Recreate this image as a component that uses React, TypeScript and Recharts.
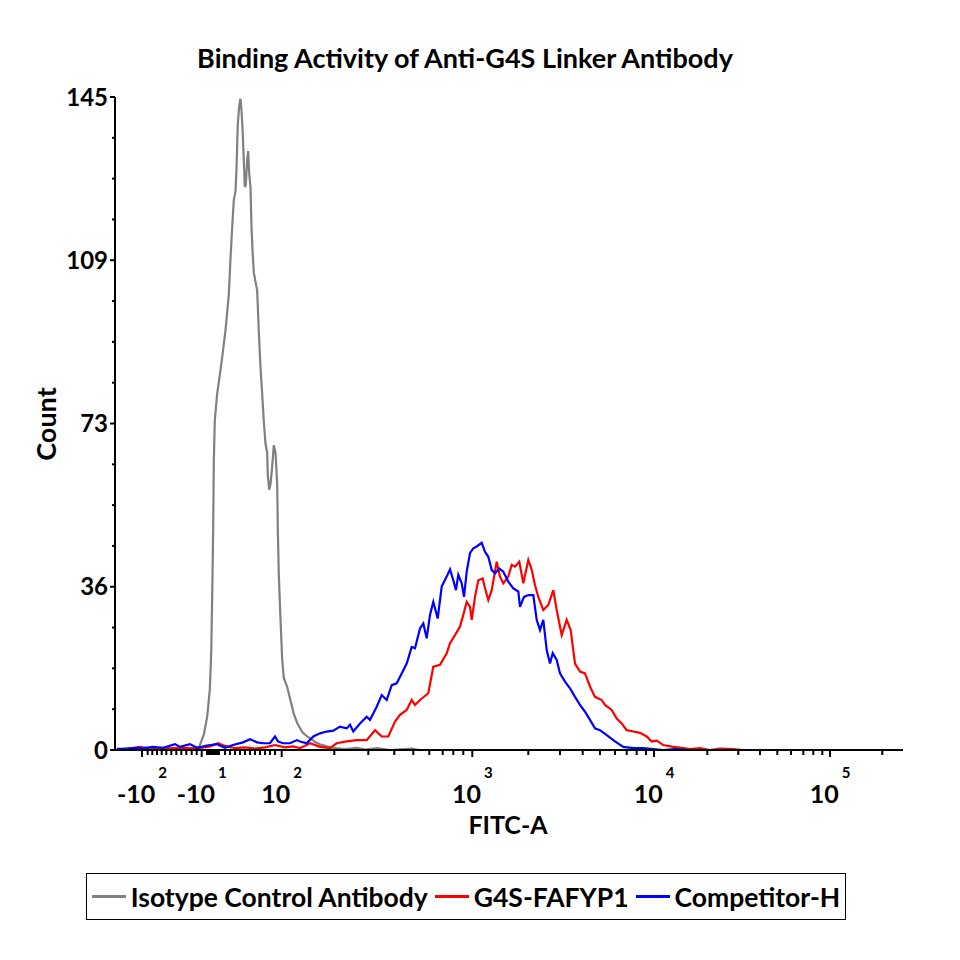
import React from 'react';
import { LineChart, Line, XAxis, YAxis } from 'recharts';

const FONT = 'Lato, "Open Sans", sans-serif';

// FITC-A histogram, x in display channels (0-788 across the biexponential axis)
const isotypeChannel = [2, 12, 20, 30, 40, 50, 60, 70, 78, 84, 88.8, 92.2, 94.8, 96.2, 97.2, 98.2, 98.8, 99.8, 102.2, 104.8, 107.2, 110.5, 113.8, 115.5, 117.2, 118.8, 120.5, 121.5, 122.8, 124.2, 125.5, 126.5, 127.5, 128.8, 129.8, 130.8, 132.2, 133.2, 134.2, 135.5, 136.5, 137.5, 138.8, 140.5, 142.2, 143.8, 145.5, 147.2, 148.8, 150.5, 152.2, 152.8, 154.2, 155.5, 157.2, 158.8, 160.5, 162.2, 162.8, 163.8, 165.5, 167.2, 168.8, 172.2, 175.5, 178.8, 182.2, 187.2, 192.2, 197.2, 200.5, 205.5, 212, 220, 230, 242, 250, 262, 275, 297, 305];
const isotypeCount = [0.3, 0, 0.4, 0.2, 0.5, 0.3, 0.4, 0.5, 0.4, 0.6, 3.4, 7.4, 13.4, 21.4, 34.3, 49.3, 64.2, 73.2, 79.2, 83.2, 87.2, 93.2, 101.1, 109.1, 116.1, 122.1, 124.1, 129, 139, 143, 144.6, 142, 138, 131, 125, 125.5, 131, 133, 128, 125, 116, 111, 106, 104, 102, 93, 85, 79, 73, 68, 66, 61, 57.8, 59, 63, 67.7, 66, 59, 49, 39, 29, 20, 16, 14, 11, 8, 6, 4, 3, 2.3, 1.7, 1.2, 0.8, 0.4, 0.2, 0.5, 0.1, 0.4, 0, 0.3, 0];

const g4sChannel = [2, 12, 25, 35, 50, 65, 80, 95, 103, 110, 120, 130, 140, 150, 160, 170, 178, 185, 195, 205, 215, 221.7, 231.7, 241.7, 251.7, 260, 266.7, 273.3, 280, 285, 291.7, 296.7, 300, 305, 313.3, 318.3, 325, 331.7, 335, 340, 345, 348.3, 351.7, 355, 356.7, 360, 363.3, 367.7, 370, 373.3, 376.7, 381.7, 385, 388.3, 393.3, 396.7, 400, 404.3, 408.3, 413.3, 416.7, 420, 423.3, 428.3, 433.3, 438.3, 441.7, 446.7, 451.7, 455.7, 460, 465, 470, 475, 480, 486.7, 490, 496.7, 501.7, 506.7, 511.7, 518.3, 525, 531.7, 536.7, 541.7, 548.3, 558.3, 568.3, 575, 585, 595, 605, 618.3, 628];
const g4sCount = [0.1, 0.2, 0.7, 0.2, 0.3, 0.5, 0.3, 0.8, 1.5, 0.9, 0.4, 0.6, 0.3, 0.6, 1.1, 0.6, 0.8, 0.4, 1.5, 0.7, 0.4, 1.5, 1.9, 2.2, 2.2, 4.4, 3, 3, 6.3, 7.8, 8.9, 11.1, 10, 11.1, 12.6, 18.5, 18.9, 21.5, 23.7, 25.5, 27.4, 30, 32.9, 31.8, 28.9, 34, 37.7, 38.1, 35.9, 33.3, 35.5, 41.8, 38.5, 37, 38.5, 41.1, 40.7, 41.8, 37, 42.2, 40, 36.6, 34, 31.1, 32.2, 35.5, 31.1, 25.5, 28.9, 26.6, 19.2, 17.4, 17, 14.1, 11.8, 11.1, 10, 8.9, 7, 5.9, 4.4, 4.1, 3.8, 3, 1.9, 2.1, 1.1, 0.7, 0.4, 0.2, 0.4, 0, 0.3, 0.2, 0];

const competitorChannel = [2, 10, 22, 28, 38, 48, 60, 65, 75, 82, 92, 102, 110, 118, 128, 135, 142, 148, 155, 160, 163, 168, 175, 182, 185, 191.7, 198.3, 205, 211.7, 218.3, 225, 231.7, 235, 238.3, 245, 251.7, 255, 261.7, 266.7, 271.7, 276.7, 281.7, 286.7, 291.7, 296.7, 300, 305, 308.3, 311.7, 315, 318.3, 322.7, 326.7, 331.7, 335, 338.3, 341, 343.3, 346.7, 349, 351.7, 355, 358.3, 361.7, 366.7, 370, 373.3, 376.7, 380, 384.3, 388.3, 393.3, 398.3, 403.3, 405, 409, 413.3, 418.3, 421.7, 425, 428.3, 431.7, 435, 437.7, 441.7, 445, 450, 455, 460, 465, 470, 475, 480, 485, 491.7, 500, 508.3, 518.3, 528.3, 538.3, 548, 560, 575];
const competitorCount = [0.2, 0.3, 0.5, 0.4, 0.7, 0.5, 1.3, 0.7, 1.3, 0.5, 1, 1.3, 0.5, 1.1, 1.7, 2.4, 1.7, 1.5, 1.5, 3, 1.9, 1.5, 1.5, 2.2, 1.9, 1.5, 3, 3.7, 4.1, 4.3, 5.2, 4.8, 5.6, 4.1, 5.9, 7.4, 6.7, 9.6, 12.2, 11.1, 14.4, 14.8, 17, 19.2, 22.9, 22.6, 27, 28.1, 24.8, 30, 32.9, 29.2, 36.3, 38.5, 40.1, 37.7, 35.5, 38.9, 37, 34, 39.6, 43.7, 44.8, 45.2, 46, 44, 42.9, 40, 39.2, 40.3, 39.6, 37.4, 35.9, 35.2, 31.8, 34, 34.4, 34.4, 28.9, 26.6, 28.9, 22.2, 19.2, 21.5, 20, 17, 15.2, 13.7, 11.8, 10, 8.5, 6.7, 4.8, 4.4, 3.3, 1.9, 0.7, 0.4, 0.4, 0.2, 0, 0.2, 0];

const seriesNames = ['Isotype Control Antibody', 'G4S-FAFYP1', 'Competitor-H'];
const seriesColors = ['#808080', '#ff0000', '#0000ff'];

// y axis: 16 equal steps up to 145, labelled every 4th
const countMax = 145;
const countTicks = Array.from({ length: 17 }, (_, i) => (countMax * i) / 16);
const countTickLabels = ['0', '36', '73', '109', '145'];

// x axis (biexponential) tick positions in channels
const fitcMajorChannel = [27, 86.7, 166.7, 357.3, 539, 715];
const fitcMajorBase = ['-10', '-10', '10', '10', '10', '10'];
const fitcMajorExp = ['2', '1', '2', '3', '4', '5'];
const fitcMinorChannel = [
  32.7, 37.3, 42, 46.7, 51.3, 56.3, 61.3, 66.3, 71.3, 76.7, 81.7,
  92, 93.5, 95, 96.5, 98, 99.5, 101, 102.5, 104,
  110, 115, 120, 125, 130, 135, 140, 145, 150, 155, 160,
  219.3, 253.3, 279.3, 298.3, 314.3, 327.7, 338.3, 348.3,
  413.3, 445, 467.7, 485, 500, 511.7, 521.7, 531,
  592.3, 623.3, 645, 662.3, 676, 688.3, 698.3, 707.3,
  767.3,
];
const fitcTicks = [...fitcMajorChannel, ...fitcMinorChannel].sort((a, b) => a - b);

const toRows = (ch: number[], counts: number[]) => ch.map((c, i) => ({ ch: c, count: counts[i] }));
const seriesData = [
  toRows(isotypeChannel, isotypeCount),
  toRows(g4sChannel, g4sCount),
  toRows(competitorChannel, competitorCount),
];

function FitcTick(props: any) {
  const { x, y, payload } = props;
  const i = fitcMajorChannel.indexOf(payload.value);
  if (i < 0) {
    return <line x1={x} y1={y} x2={x} y2={y + 5} stroke="#000" strokeWidth={2} />;
  }
  return (
    <g>
      <line x1={x} y1={y} x2={x} y2={y + 7} stroke="#000" strokeWidth={2} />
      <text x={x} y={y + 53} textAnchor="middle" fontFamily={FONT} fontWeight={700} fontSize={25} fill="#000">
        {fitcMajorBase[i]}
        <tspan dx={3} dy={-25} fontSize={15}>{fitcMajorExp[i]}</tspan>
      </text>
    </g>
  );
}

function CountTick(props: any) {
  const { x, y, payload } = props;
  const step = Math.round((payload.value * 16) / countMax);
  const major = step % 4 === 0;
  return (
    <g>
      <line x1={x - (major ? 5 : 3)} y1={y} x2={x} y2={y} stroke="#000" strokeWidth={2} />
      {major && (
        <text x={x - 7} y={y} dy="0.36em" textAnchor="end" fontFamily={FONT} fontWeight={700} fontSize={24} fill="#000">
          {countTickLabels[step / 4]}
        </text>
      )}
    </g>
  );
}

export default function App() {
  return (
    <div style={{ position: 'absolute', left: 0, top: 0, width: 960, height: 960, background: '#fff', fontFamily: FONT }}>
      <div style={{ position: 'absolute', left: 0, top: 41, width: 930, textAlign: 'center', fontSize: 27, fontWeight: 700, lineHeight: '34px' }}>
        Binding Activity of Anti-G4S Linker Antibody
      </div>

      <LineChart width={960} height={960} margin={{ top: 97, right: 57, bottom: 150, left: 55 }}>
        <XAxis
          type="number"
          dataKey="ch"
          domain={[0, 788]}
          ticks={fitcTicks}
          interval={0}
          tickSize={0}
          tickMargin={0}
          height={60}
          axisLine={{ stroke: '#000', strokeWidth: 2 }}
          tick={<FitcTick />}
        />
        <YAxis
          type="number"
          domain={[0, countMax]}
          ticks={countTicks}
          interval={0}
          tickSize={0}
          tickMargin={0}
          width={60}
          axisLine={{ stroke: '#000', strokeWidth: 2 }}
          tick={<CountTick />}
        />
        {seriesData.map((rows, i) => (
          <Line
            key={seriesNames[i]}
            data={rows}
            dataKey="count"
            name={seriesNames[i]}
            type="linear"
            stroke={seriesColors[i]}
            strokeWidth={2.2}
            dot={false}
            isAnimationActive={false}
          />
        ))}
      </LineChart>

      <div style={{ position: 'absolute', left: 45, top: 424, transform: 'translate(-50%, -50%) rotate(-90deg)', fontSize: 27, fontWeight: 700, whiteSpace: 'nowrap' }}>
        Count
      </div>
      <div style={{ position: 'absolute', left: 508, top: 824, transform: 'translate(-50%, -50%)', fontSize: 25, fontWeight: 700, whiteSpace: 'nowrap' }}>
        FITC-A
      </div>

      <div
        style={{
          position: 'absolute', left: 86, top: 873, width: 758, height: 45, border: '1px solid #000',
          display: 'flex', alignItems: 'center', justifyContent: 'center', fontSize: 26.5, fontWeight: 700,
          whiteSpace: 'nowrap', overflow: 'visible',
        }}
      >
        {seriesNames.map((n, i) => (
          <div key={n} style={{ display: 'flex', alignItems: 'center', flexShrink: 0, marginLeft: i ? 7 : 0 }}>
            <div style={{ width: 34, height: 3, background: seriesColors[i], marginRight: 5, flexShrink: 0 }} />
            <span>{n}</span>
          </div>
        ))}
      </div>
    </div>
  );
}
